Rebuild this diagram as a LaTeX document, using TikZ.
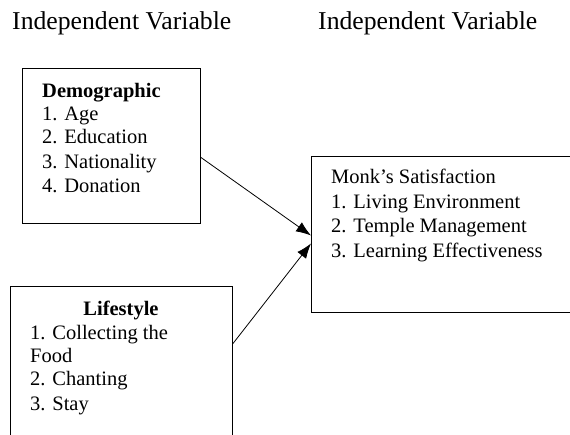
\documentclass[tikz,border=0pt]{standalone}
\usepackage{fontspec}
\setmainfont{Liberation Serif}
\usetikzlibrary{arrows.meta}
\begin{document}
\begin{tikzpicture}[x=1pt,y=-1pt,
  every node/.style={font=\fontsize{20.5}{24.5}\selectfont,inner sep=0pt},
  varbox/.style={draw,line width=1pt,anchor=north west},
  item/.style={anchor=base west},
  head/.style={anchor=base west,font=\fontsize{25.7}{30}\selectfont},
  link/.style={-{Latex[length=15pt,width=11pt]},line width=0.8pt}]
\useasboundingbox(0,0)rectangle(570,434);
\clip(0,0)rectangle(570,434);
%headings
\node[head](headL) at (12,29){Independent Variable};
\node[head](headR) at (318,29){Independent Variable};
%boxes
\node[varbox,minimum width=178,minimum height=155](demo) at (22,68){};
\node[varbox,minimum width=222,minimum height=160](life) at (10,286){};
\node[varbox,minimum width=280,minimum height=156](monk) at (311,156){};
%texts
\node[item,font=\fontsize{20.5}{24.5}\selectfont\bfseries](demoT) at (42,97){Demographic};
\foreach \y/\t in {120/1. Age,143.5/2. Education,168/3. Nationality,192/4. Donation}{\node[item] at (42,\y){\t};}
\node[anchor=base,font=\fontsize{20.5}{24.5}\selectfont\bfseries](lifeT) at (121,315){Lifestyle};
\foreach \y/\t in {339/1. Collecting the,362/Food,385.5/2. Chanting,410/3. Stay}{\node[item] at (30,\y){\t};}
\foreach \y/\t in {183/Monk’s Satisfaction,208/1. Living Environment,232.5/2. Temple Management,257/3. Learning Effectiveness}{\node[item] at (331,\y){\t};}
%links
\draw[link]([yshift=-11.5pt]demo.east)--([yshift=-1pt]monk.west);
\draw[link]([yshift=23pt]life.east)--([yshift=-9pt]monk.west);
\end{tikzpicture}
\end{document}
